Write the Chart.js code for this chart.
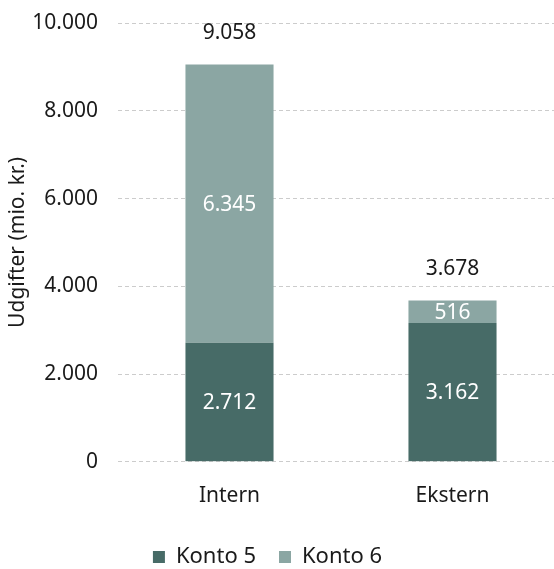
<!DOCTYPE html>
<html>
<head>
<meta charset="utf-8">
<script src="https://cdn.jsdelivr.net/npm/chart.js@4/dist/chart.umd.min.js"></script>
<style>
  html, body { margin: 0; padding: 0; background: #fff; overflow: hidden; }
  #wrap { width: 564px; height: 569px; position: relative; }
</style>
</head>
<body>
<div id="wrap"><canvas id="chart"></canvas></div>
<script>
const categories = ['Intern', 'Ekstern'];
const konto5 = [2712, 3162];
const konto6 = [6345, 516];
const totals = [9058, 3678];
const yTicks = [0, 2000, 4000, 6000, 8000, 10000];

const DARK = '#476b67';
const LIGHT = '#8ba6a3';
const FONT = '"Noto Sans", sans-serif';
const SIZE = 21;

// dansk tusindtalsseparator
function fmt(v) {
  return String(Math.round(v)).replace(/\B(?=(\d{3})+(?!\d))/g, '.');
}

// værdier inde i søjlerne og totaler over dem
const barLabels = {
  id: 'barLabels',
  afterDatasetsDraw(chart) {
    const ctx = chart.ctx;
    ctx.save();
    ctx.font = SIZE + 'px ' + FONT;
    ctx.textAlign = 'center';
    ctx.textBaseline = 'middle';
    chart.data.datasets.forEach((ds, i) => {
      chart.getDatasetMeta(i).data.forEach((bar, j) => {
        const mid = (bar.y + bar.base) / 2;
        ctx.fillStyle = '#fff';
        ctx.fillText(fmt(ds.data[j]), bar.x, mid + 1);
      });
    });
    const top = chart.getDatasetMeta(chart.data.datasets.length - 1).data;
    top.forEach((bar, j) => {
      ctx.fillStyle = '#1a1a1a';
      ctx.fillText(fmt(totals[j]), bar.x, chart.scales.y.getPixelForValue(totals[j]) - 31);
    });
    ctx.restore();
  }
};

// forklaringen rykkes lidt til venstre
const legendShift = {
  id: 'legendShift',
  afterLayout(chart) {
    chart.legend.left -= 17;
    chart.legend.right -= 17;
  }
};

new Chart(document.getElementById('chart'), {
  type: 'bar',
  data: {
    labels: categories,
    datasets: [
      { label: 'Konto 5', data: konto5, backgroundColor: DARK },
      { label: 'Konto 6', data: konto6, backgroundColor: LIGHT }
    ]
  },
  options: {
    responsive: true,
    maintainAspectRatio: false,
    animation: false,
    barPercentage: 0.395,
    categoryPercentage: 1,
    layout: { padding: { top: 23, right: 0, left: 5, bottom: -9 } },
    scales: {
      x: {
        stacked: true,
        grid: { display: false },
        border: { display: false },
        ticks: { color: '#1a1a1a', font: { family: FONT, size: SIZE }, padding: 14 }
      },
      y: {
        stacked: true,
        min: 0,
        max: 10000,
        afterBuildTicks(axis) { axis.ticks = yTicks.map(v => ({ value: v })); },
        afterFit(axis) {
          axis.width = 113;
          axis.paddingTop = 0;
        },
        grid: { color: '#cccccc', drawTicks: false },
        border: { display: false, dash: [4, 3] },
        ticks: {
          color: '#1a1a1a',
          font: { family: FONT, size: SIZE },
          padding: 20,
          callback: v => fmt(v)
        },
        title: {
          display: true,
          text: 'Udgifter (mio. kr.)',
          color: '#1a1a1a',
          font: { family: FONT, size: SIZE },
          padding: { top: 0, bottom: 0 }
        }
      }
    },
    plugins: {
      legend: {
        position: 'bottom',
        labels: {
          color: '#1a1a1a',
          font: { family: FONT, size: 22 },
          boxWidth: 12,
          boxHeight: 12,
          padding: 23
        }
      },
      tooltip: { enabled: false }
    }
  },
  plugins: [barLabels, legendShift]
});
</script>
</body>
</html>
